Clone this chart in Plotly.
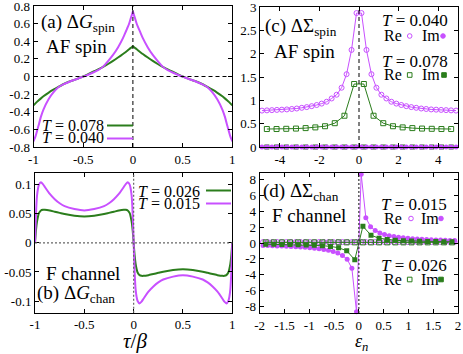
import plotly.graph_objects as go

W, H = 463, 354
GREEN = "#2b7d1c"
MAGENTA = "#c850ff"
FONT = "Liberation Serif"

# ---------- panel (a): dG_spin(tau) ----------
tau_a = [-1.0, -0.98, -0.965, -0.95, -0.925, -0.9, -0.85, -0.8, -0.75, -0.7,
         -0.65, -0.6, -0.55, -0.5, -0.45, -0.4, -0.35, -0.3, -0.25, -0.2,
         -0.15, -0.1, -0.075, -0.05, -0.035, -0.02, -0.01, 0.0,
         0.01, 0.02, 0.035, 0.05, 0.075, 0.1, 0.15, 0.2, 0.25, 0.3,
         0.35, 0.4, 0.45, 0.5, 0.55, 0.6, 0.65, 0.7, 0.75, 0.8,
         0.85, 0.9, 0.925, 0.95, 0.965, 0.98, 1.0]
g_spin_040 = [-0.735, -0.68, -0.62, -0.56, -0.455, -0.375, -0.26, -0.18, -0.122, -0.09,
              -0.065, -0.042, -0.022, -0.002, 0.02, 0.045, 0.072, 0.112, 0.175, 0.245,
              0.33, 0.435, 0.50, 0.565, 0.61, 0.665, 0.70, 0.74,
              0.70, 0.665, 0.61, 0.565, 0.50, 0.435, 0.33, 0.245, 0.175, 0.112,
              0.072, 0.045, 0.02, -0.002, -0.022, -0.042, -0.065, -0.09, -0.122, -0.18,
              -0.26, -0.375, -0.455, -0.56, -0.62, -0.68, -0.735]
g_spin_078 = [-0.328, -0.305, -0.288, -0.272, -0.248, -0.225, -0.185, -0.150, -0.118, -0.088,
              -0.063, -0.043, -0.022, 0.0, 0.027, 0.054, 0.081, 0.11, 0.142, 0.177,
              0.215, 0.255, 0.276, 0.298, 0.312, 0.325, 0.334, 0.343,
              0.334, 0.325, 0.312, 0.298, 0.276, 0.255, 0.215, 0.177, 0.142, 0.11,
              0.081, 0.054, 0.027, 0.0, -0.022, -0.043, -0.063, -0.088, -0.118, -0.150,
              -0.185, -0.225, -0.248, -0.272, -0.288, -0.305, -0.328]

# ---------- panel (b): dG_chan(tau) ----------
tau_b = [-1.0, -0.99, -0.98, -0.97, -0.96, -0.94, -0.92, -0.9, -0.85, -0.8,
         -0.75, -0.7, -0.6, -0.5, -0.4, -0.3, -0.25, -0.2, -0.15, -0.1,
         -0.08, -0.06, -0.04, -0.03, -0.02, -0.01, 0.0,
         0.01, 0.02, 0.03, 0.04, 0.06, 0.08, 0.1, 0.15, 0.2, 0.25,
         0.3, 0.4, 0.5, 0.6, 0.7, 0.75, 0.8, 0.85, 0.9, 0.92,
         0.94, 0.96, 0.97, 0.98, 0.99, 1.0]
g_chan_015 = [0.0, 0.05, 0.08, 0.093, 0.1, 0.104, 0.101, 0.096, 0.084, 0.075,
              0.068, 0.063, 0.058, 0.0556, 0.058, 0.063, 0.068, 0.075, 0.084, 0.096,
              0.101, 0.104, 0.1, 0.093, 0.08, 0.05, 0.0,
              -0.05, -0.08, -0.093, -0.1, -0.104, -0.101, -0.096, -0.084, -0.075, -0.068,
              -0.063, -0.058, -0.0556, -0.058, -0.063, -0.068, -0.075, -0.084, -0.096, -0.101,
              -0.104, -0.1, -0.093, -0.08, -0.05, 0.0]
g_chan_026 = [0.0, 0.022, 0.036, 0.045, 0.051, 0.0555, 0.0567, 0.0567, 0.0555, 0.0535,
              0.0515, 0.0495, 0.0465, 0.0452, 0.0465, 0.0495, 0.0515, 0.0535, 0.0555, 0.0567,
              0.0567, 0.0555, 0.051, 0.045, 0.036, 0.022, 0.0,
              -0.022, -0.036, -0.045, -0.051, -0.0555, -0.0567, -0.0567, -0.0555, -0.0535, -0.0515,
              -0.0495, -0.0465, -0.0452, -0.0465, -0.0495, -0.0515, -0.0535, -0.0555, -0.0567, -0.0567,
              -0.0555, -0.051, -0.045, -0.036, -0.022, 0.0]

# ---------- panel (c): dSigma_spin(eps_n) ----------
eps_040 = [-4.901, -4.650, -4.398, -4.147, -3.896, -3.644, -3.393, -3.142, -2.890, -2.639,
           -2.388, -2.136, -1.885, -1.634, -1.382, -1.131, -0.880, -0.628, -0.377, -0.126,
           0.126, 0.377, 0.628, 0.880, 1.131, 1.382, 1.634, 1.885, 2.136, 2.388,
           2.639, 2.890, 3.142, 3.393, 3.644, 3.896, 4.147, 4.398, 4.650, 4.901]
re_spin_040 = [0.78, 0.785, 0.79, 0.795, 0.80, 0.805, 0.815, 0.825, 0.84, 0.855,
               0.875, 0.90, 0.93, 0.97, 1.04, 1.12, 1.27, 1.56, 2.08, 2.87,
               2.87, 2.08, 1.56, 1.27, 1.12, 1.04, 0.97, 0.93, 0.90, 0.875,
               0.855, 0.84, 0.825, 0.815, 0.805, 0.80, 0.795, 0.79, 0.785, 0.78]
im_spin_040 = [0.0, 0.0, 0.0, 0.0, 0.0, 0.0, 0.0, 0.0, 0.0, 0.0,
               0.0, 0.0, 0.0, 0.0, 0.0, 0.0, 0.0, 0.0, 0.0, 0.0,
               0.0, 0.0, 0.0, 0.0, 0.0, 0.0, 0.0, 0.0, 0.0, 0.0,
               0.0, 0.0, 0.0, 0.0, 0.0, 0.0, 0.0, 0.0, 0.0, 0.0]
eps_078 = [-4.654, -4.164, -3.674, -3.184, -2.695, -2.205, -1.715, -1.225, -0.735, -0.245,
           0.245, 0.735, 1.225, 1.715, 2.205, 2.695, 3.184, 3.674, 4.164, 4.654]
re_spin_078 = [0.385, 0.385, 0.39, 0.395, 0.405, 0.42, 0.445, 0.51, 0.67, 1.35,
               1.35, 0.67, 0.51, 0.445, 0.42, 0.405, 0.395, 0.39, 0.385, 0.385]
im_spin_078 = [0.0, 0.0, 0.0, 0.0, 0.0, 0.0, 0.0, 0.0, 0.0, 0.0,
               0.0, 0.0, 0.0, 0.0, 0.0, 0.0, 0.0, 0.0, 0.0, 0.0]

# ---------- panel (d): dSigma_chan(eps_n) ----------
eps_015 = [-1.932, -1.838, -1.744, -1.649, -1.555, -1.461, -1.367, -1.272, -1.178, -1.084,
           -0.990, -0.895, -0.801, -0.707, -0.613, -0.518, -0.424, -0.330, -0.236, -0.141, -0.047,
           0.047, 0.141, 0.236, 0.330, 0.424, 0.518, 0.613, 0.707, 0.801, 0.895,
           0.990, 1.084, 1.178, 1.272, 1.367, 1.461, 1.555, 1.649, 1.744, 1.838, 1.932]
im_chan_015 = [-0.32, -0.33, -0.35, -0.37, -0.39, -0.41, -0.44, -0.47, -0.51, -0.55,
               -0.60, -0.66, -0.73, -0.82, -0.93, -1.08, -1.28, -1.58, -2.05, -3.20, -8.70,
               8.70, 3.20, 2.05, 1.58, 1.28, 1.08, 0.93, 0.82, 0.73, 0.66,
               0.60, 0.55, 0.51, 0.47, 0.44, 0.41, 0.39, 0.37, 0.35, 0.33, 0.32]
re_chan_015 = [0.12, 0.12, 0.12, 0.12, 0.12, 0.12, 0.12, 0.12, 0.12, 0.12,
               0.12, 0.12, 0.12, 0.12, 0.12, 0.12, 0.12, 0.12, 0.12, 0.12, 0.12,
               0.12, 0.12, 0.12, 0.12, 0.12, 0.12, 0.12, 0.12, 0.12, 0.12,
               0.12, 0.12, 0.12, 0.12, 0.12, 0.12, 0.12, 0.12, 0.12, 0.12, 0.12]
eps_026 = [-1.879, -1.715, -1.552, -1.389, -1.225, -1.062, -0.899, -0.735, -0.572, -0.408,
           -0.245, -0.082, 0.082, 0.245, 0.408, 0.572, 0.735, 0.899, 1.062, 1.225,
           1.389, 1.552, 1.715, 1.879]
im_chan_026 = [-0.15, -0.165, -0.18, -0.20, -0.22, -0.25, -0.29, -0.34, -0.43, -0.60,
               -0.98, -2.12, 2.12, 0.98, 0.60, 0.43, 0.34, 0.29, 0.25, 0.22,
               0.20, 0.18, 0.165, 0.15]
re_chan_026 = [0.08, 0.08, 0.08, 0.08, 0.08, 0.08, 0.08, 0.08, 0.08, 0.08,
               0.08, 0.08, 0.08, 0.08, 0.08, 0.08, 0.08, 0.08, 0.08, 0.08,
               0.08, 0.08, 0.08, 0.08]

# tick values / labels
tau_ticks = [-1, -0.5, 0, 0.5, 1]
tau_labels = ["-1", "-0.5", "0", "0.5", "1"]
a_yticks = [-0.8, -0.6, -0.4, -0.2, 0, 0.2, 0.4, 0.6, 0.8]
a_ylabels = ["-0.8", "-0.6", "-0.4", "-0.2", "0", "0.2", "0.4", "0.6", "0.8"]
b_yticks = [-0.1, -0.05, 0, 0.05, 0.1]
b_ylabels = ["-0.1", "-0.05", "0", "0.05", "0.1"]
c_xticks = [-4, -2, 0, 2, 4]
c_xlabels = ["-4", "-2", "0", "2", "4"]
c_yticks = [0, 0.5, 1, 1.5, 2, 2.5, 3]
c_ylabels = ["0", "0.5", "1", "1.5", "2", "2.5", "3"]
d_xticks = [-2, -1.5, -1, -0.5, 0, 0.5, 1, 1.5, 2]
d_xlabels = ["-2", "-1.5", "-1", "-0.5", "0", "0.5", "1", "1.5", "2"]
d_yticks = [-8, -6, -4, -2, 0, 2, 4, 6, 8]
d_ylabels = ["-8", "-6", "-4", "-2", "0", "2", "4", "6", "8"]


def px_x(p):
    return p / W


def px_y(p):
    return 1 - p / H


def axis(domain, rng, tv, tt, anchor):
    return dict(domain=domain, range=rng, tickvals=tv, ticktext=tt, anchor=anchor,
                ticks="inside", ticklen=4, tickcolor="black", showline=True,
                mirror="ticks", linecolor="black", linewidth=1, showgrid=False,
                zeroline=False, automargin=False, ticklabeloverflow="allow",
                tickfont=dict(family=FONT, size=13, color="black"))


fig = go.Figure()

# (a)
fig.add_trace(go.Scatter(x=tau_a, y=g_spin_078, mode="lines", line=dict(color=GREEN, width=2, shape="spline", smoothing=0.5),
                         xaxis="x", yaxis="y"))
fig.add_trace(go.Scatter(x=tau_a, y=g_spin_040, mode="lines", line=dict(color=MAGENTA, width=2, shape="spline", smoothing=0.5),
                         xaxis="x", yaxis="y"))
# (b)
fig.add_trace(go.Scatter(x=tau_b, y=g_chan_026, mode="lines", line=dict(color=GREEN, width=2, shape="spline", smoothing=0.5),
                         xaxis="x2", yaxis="y2"))
fig.add_trace(go.Scatter(x=tau_b, y=g_chan_015, mode="lines", line=dict(color=MAGENTA, width=2, shape="spline", smoothing=0.5),
                         xaxis="x2", yaxis="y2"))
# (c)
mk = dict(size=5, line=dict(width=1))
fig.add_trace(go.Scatter(x=eps_078, y=re_spin_078, mode="lines+markers", line=dict(color=GREEN, width=1),
                         marker=dict(symbol="square-open", color=GREEN, **mk), xaxis="x3", yaxis="y3", cliponaxis=False))
fig.add_trace(go.Scatter(x=eps_040, y=re_spin_040, mode="lines+markers", line=dict(color=MAGENTA, width=1),
                         marker=dict(symbol="circle-open", color=MAGENTA, **mk), xaxis="x3", yaxis="y3", cliponaxis=False))
fig.add_trace(go.Scatter(x=eps_078, y=im_spin_078, mode="lines+markers", line=dict(color=GREEN, width=1),
                         marker=dict(symbol="square", color=GREEN, size=5), xaxis="x3", yaxis="y3", cliponaxis=False))
fig.add_trace(go.Scatter(x=eps_040, y=im_spin_040, mode="lines+markers", line=dict(color=MAGENTA, width=1),
                         marker=dict(symbol="circle", color=MAGENTA, size=5), xaxis="x3", yaxis="y3", cliponaxis=False))
# (d)
fig.add_trace(go.Scatter(x=eps_015, y=re_chan_015, mode="lines+markers", line=dict(color=MAGENTA, width=1),
                         marker=dict(symbol="circle-open", color=MAGENTA, **mk), xaxis="x4", yaxis="y4"))
fig.add_trace(go.Scatter(x=eps_026, y=re_chan_026, mode="lines+markers", line=dict(color=GREEN, width=1),
                         marker=dict(symbol="square-open", color=GREEN, **mk), xaxis="x4", yaxis="y4"))
fig.add_trace(go.Scatter(x=eps_015, y=im_chan_015, mode="lines+markers", line=dict(color=MAGENTA, width=1),
                         marker=dict(symbol="circle", color=MAGENTA, size=5), xaxis="x4", yaxis="y4", cliponaxis=False))
fig.add_trace(go.Scatter(x=eps_026, y=im_chan_026, mode="lines+markers", line=dict(color=GREEN, width=1),
                         marker=dict(symbol="square", color=GREEN, size=5), xaxis="x4", yaxis="y4"))

dom_a = ([px_x(33.5), px_x(232.3)], [px_y(147), px_y(6)])
dom_b = ([px_x(35), px_x(232.3)], [px_y(312.7), px_y(173)])
dom_c = ([px_x(260), px_x(458)], [px_y(147), px_y(7)])
dom_d = ([px_x(259.7), px_x(458)], [px_y(313), px_y(173)])

fig.update_layout(
    width=W, height=H, margin=dict(l=0, r=0, t=0, b=0, autoexpand=False),
    paper_bgcolor="white", plot_bgcolor="white", showlegend=False,
    font=dict(family=FONT, color="black"),
    xaxis=axis(dom_a[0], [-1, 1], tau_ticks, tau_labels, "y"),
    yaxis=axis(dom_a[1], [-0.8, 0.8], a_yticks, a_ylabels, "x"),
    xaxis2=axis(dom_b[0], [-1, 1], tau_ticks, tau_labels, "y2"),
    yaxis2=axis(dom_b[1], [-0.12, 0.12], b_yticks, b_ylabels, "x2"),
    xaxis3=axis(dom_c[0], [-5, 5], c_xticks, c_xlabels, "y3"),
    yaxis3=axis(dom_c[1], [0, 3], c_yticks, c_ylabels, "x3"),
    xaxis4=axis(dom_d[0], [-2, 2], d_xticks, d_xlabels, "y4"),
    yaxis4=axis(dom_d[1], [-8.85, 8.85], d_yticks, d_ylabels, "x4"),
)

# zero reference lines
dash = dict(color="black", width=1, dash="4px,3px")
dot = dict(color="#666666", width=1.2, dash="2px,2px")
fig.add_shape(type="line", xref="x domain", yref="y", x0=0, x1=1, y0=0, y1=0, line=dash)
fig.add_shape(type="line", xref="x", yref="y domain", x0=0, x1=0, y0=0, y1=1, line=dash)
fig.add_shape(type="line", xref="x2 domain", yref="y2", x0=0, x1=1, y0=0, y1=0, line=dot)
fig.add_shape(type="line", xref="x2", yref="y2 domain", x0=0, x1=0, y0=0, y1=1, line=dot)
fig.add_shape(type="line", xref="x3", yref="y3 domain", x0=0, x1=0, y0=0, y1=1, line=dash)
fig.add_shape(type="line", xref="x4", yref="y4 domain", x0=0, x1=0, y0=0, y1=1, line=dict(color="#333333", width=1.2, dash="2px,2px"))


def note(text, x, y, size, xanchor="left"):
    fig.add_annotation(text=text, x=px_x(x), y=px_y(y), xref="paper", yref="paper",
                       xanchor=xanchor, yanchor="middle", showarrow=False,
                       font=dict(family=FONT, size=size, color="black"))


def key_line(x0, x1, y, color):
    fig.add_shape(type="line", xref="paper", yref="paper", x0=px_x(x0), x1=px_x(x1),
                  y0=px_y(y), y1=px_y(y), line=dict(color=color, width=2))


def key_marker(kind, cx, cy, color, filled):
    r = 2.3
    fig.add_shape(type=kind, xref="paper", yref="paper",
                  x0=px_x(cx - r), x1=px_x(cx + r), y0=px_y(cy + r), y1=px_y(cy - r),
                  line=dict(color=color, width=1), fillcolor=color if filled else "rgba(0,0,0,0)")


# (a) labels
note("(a) Δ<i>G</i><sub>spin</sub>", 39, 23, 19)
note("AF spin", 44, 46, 19)
note("<i>T</i> = 0.078", 106, 125, 16, "right")
note("<i>T</i> = 0.040", 106, 137.5, 16, "right")
key_line(107, 133, 125.5, GREEN)
key_line(107, 133, 138.5, MAGENTA)

# (b) labels
note("F channel", 44, 273.5, 19)
note("(b) Δ<i>G</i><sub>chan</sub>", 35, 294, 19)
note("<i>T</i> = 0.026", 136, 191, 16)
note("<i>T</i> = 0.015", 136, 203, 16)
key_line(206, 231, 190.5, GREEN)
key_line(206, 231, 203.5, MAGENTA)

# (c) labels
note("(c) ΔΣ<sub>spin</sub>", 263, 27, 19)
note("AF spin", 272, 52, 19)
note("<i>T</i> = 0.040", 380, 21, 17)
note("Re", 382, 35.5, 16)
note("Im", 420, 35.5, 16)
key_marker("circle", 409.7, 36, MAGENTA, False)
key_marker("circle", 443, 36, MAGENTA, True)
note("<i>T</i> = 0.078", 380, 61, 17)
note("Re", 382, 74.7, 16)
note("Im", 420, 74.7, 16)
key_marker("rect", 409.7, 75, GREEN, False)
key_marker("rect", 444, 75, GREEN, True)

# (d) labels
note("(d) ΔΣ<sub>chan</sub>", 261, 192, 19)
note("F channel", 270, 215, 19)
note("<i>T</i> = 0.015", 379, 204, 17)
note("Re", 382, 218.5, 16)
note("Im", 419, 218.5, 16)
key_marker("circle", 411, 218.5, MAGENTA, False)
key_marker("circle", 441, 218.5, MAGENTA, True)
note("<i>T</i> = 0.026", 379, 265.5, 17)
note("Re", 382, 279.5, 16)
note("Im", 419, 279.5, 16)
key_marker("rect", 409.7, 279.5, GREEN, False)
key_marker("rect", 441, 279.5, GREEN, True)

# axis titles
note("<i>τ</i>/<i>β</i>", 134.5, 341, 21, "center")
note("<i>ε</i><sub><i>n</i></sub>", 361, 342, 18, "center")

# drop the browser's default page margin so the figure sits at the window origin
fig.write_html("out.html", config={"displayModeBar": False},
               post_script="document.body.style.margin='0';")
